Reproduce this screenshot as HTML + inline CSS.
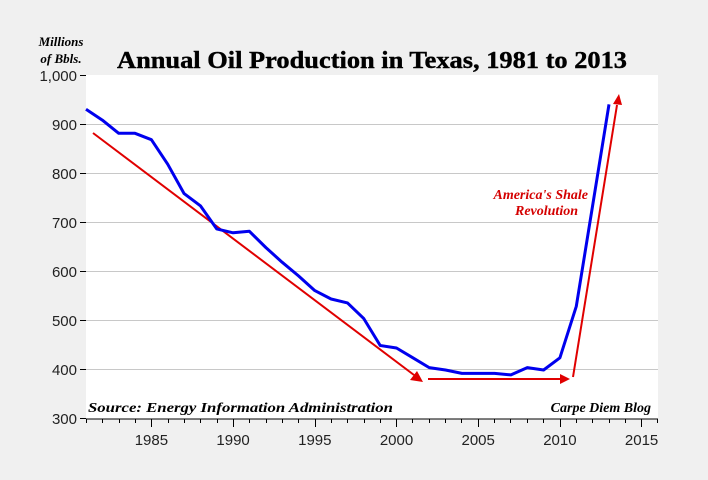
<!DOCTYPE html>
<html><head><style>html,body{margin:0;padding:0;background:#f0f0f0}svg{display:block}</style></head>
<body>
<svg width="708" height="480" xmlns="http://www.w3.org/2000/svg">
<rect width="708" height="480" fill="#f0f0f0"/>
<rect x="86" y="75" width="572" height="344" fill="#fff"/>
<g stroke="#c8c8c8" stroke-width="1">
<line x1="86" x2="658" y1="124.5" y2="124.5"/><line x1="86" x2="658" y1="173.5" y2="173.5"/>
<line x1="86" x2="658" y1="222.5" y2="222.5"/><line x1="86" x2="658" y1="271.5" y2="271.5"/>
<line x1="86" x2="658" y1="320.5" y2="320.5"/><line x1="86" x2="658" y1="369.5" y2="369.5"/>
</g>
<g stroke="#000" stroke-width="1">
<line x1="80" x2="86" y1="75.5" y2="75.5"/><line x1="80" x2="86" y1="124.5" y2="124.5"/>
<line x1="80" x2="86" y1="173.5" y2="173.5"/><line x1="80" x2="86" y1="222.5" y2="222.5"/>
<line x1="80" x2="86" y1="271.5" y2="271.5"/><line x1="80" x2="86" y1="320.5" y2="320.5"/>
<line x1="80" x2="86" y1="369.5" y2="369.5"/><line x1="80" x2="86" y1="418.5" y2="418.5"/>
<line x1="86" x2="658" y1="419" y2="419"/>
</g>
<path stroke="#000" stroke-width="1" fill="none" d="M86.5 419v4M102.5 419v4M119.5 419v4M135.5 419v4M151.5 419v8M168.5 419v4M184.5 419v4M200.5 419v4M217.5 419v4M233.5 419v8M249.5 419v4M266.5 419v4M282.5 419v4M298.5 419v4M315.5 419v8M331.5 419v4M347.5 419v4M364.5 419v4M380.5 419v4M396.5 419v8M412.5 419v4M429.5 419v4M445.5 419v4M461.5 419v4M478.5 419v8M494.5 419v4M510.5 419v4M527.5 419v4M543.5 419v4M560.5 419v8M576.5 419v4M592.5 419v4M609.5 419v4M625.5 419v4M641.5 419v8M657.5 419v4"/>
<g font-family="Liberation Sans, sans-serif" font-size="15" fill="#222" text-anchor="end">
<text x="77" y="81">1,000</text><text x="77" y="130">900</text><text x="77" y="179">800</text>
<text x="77" y="228">700</text><text x="77" y="277">600</text><text x="77" y="326">500</text>
<text x="77" y="375">400</text><text x="77" y="424">300</text>
</g>
<g font-family="Liberation Sans, sans-serif" font-size="15" fill="#222" text-anchor="middle">
<text x="151.4" y="445">1985</text><text x="233.1" y="445">1990</text><text x="314.8" y="445">1995</text>
<text x="396.5" y="445">2000</text><text x="478.2" y="445">2005</text><text x="559.9" y="445">2010</text>
<text x="641.6" y="445">2015</text>
</g>
<text x="117" y="68" font-family="Liberation Serif, serif" font-weight="bold" font-size="24" textLength="510" lengthAdjust="spacingAndGlyphs" fill="#000" stroke="#000" stroke-width="0.4">Annual Oil Production in Texas, 1981 to 2013</text>
<g font-family="Liberation Serif, serif" font-weight="bold" font-style="italic" font-size="13" fill="#000" text-anchor="middle">
<text x="61" y="46">Millions</text><text x="61" y="63">of Bbls.</text>
</g>
<text x="88" y="412" font-family="Liberation Serif, serif" font-weight="bold" font-style="italic" font-size="14" fill="#000" textLength="305" lengthAdjust="spacingAndGlyphs">Source: Energy Information Administration</text>
<text x="651" y="412" text-anchor="end" font-family="Liberation Serif, serif" font-weight="bold" font-style="italic" font-size="14" fill="#000">Carpe Diem Blog</text>
<g font-family="Liberation Serif, serif" font-weight="bold" font-style="italic" font-size="14" fill="#d40000" text-anchor="end">
<text x="588" y="199">America's Shale</text><text x="578" y="215">Revolution</text>
</g>
<g stroke="#e00000" stroke-width="2" fill="none">
<line x1="93" y1="133" x2="414" y2="375"/>
<line x1="428" y1="379" x2="562" y2="379"/>
<line x1="573" y1="377" x2="617" y2="105"/>
</g>
<g fill="#e00000">
<polygon points="423,382 410,380 417,371"/>
<polygon points="570,379 560,374 560,384"/>
<polygon points="619,94 613,104 622,105"/>
</g>
<polyline fill="none" stroke="#0000ee" stroke-width="3" stroke-linejoin="round" points="86,109.3 102.3,120.1 118.7,133.3 135,133.3 151.4,139.7 167.7,164.2 184.1,193.6 200.4,205.8 216.7,228.9 233.1,232.8 249.4,231.3 265.8,247.5 282.1,262.2 298.5,275.9 314.8,290.6 331.1,299 347.5,302.9 363.8,318.6 380.2,345.5 396.5,348 412.9,357.8 429.2,367.6 445.5,370 461.9,373.4 478.2,373.4 494.6,373.4 510.9,374.9 527.3,367.6 543.6,370 559.9,357.8 576.3,306.3 592.6,205.8 609,104.4"/>
</svg>
</body></html>
